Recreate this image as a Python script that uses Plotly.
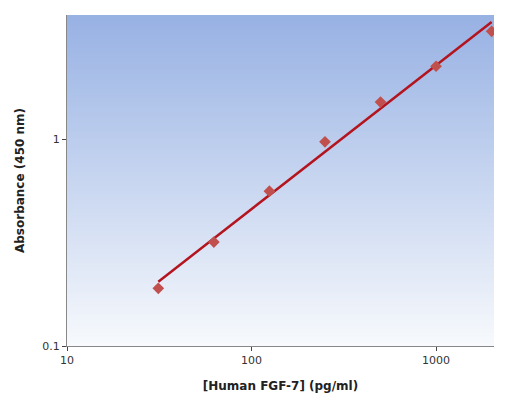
import numpy as np
import plotly.graph_objects as go

conc = [31.25, 62.5, 125, 250, 500, 1000, 2000]
absorb = [0.19, 0.318, 0.56, 0.97, 1.51, 2.25, 3.32]

lx, ly = np.log10(conc), np.log10(absorb)
b, a = np.polyfit(lx, ly, 1)
fit_x = [conc[0], conc[-1]]
fit_y = [10 ** (a + b * np.log10(v)) for v in fit_x]

fig = go.Figure()
n = 220
top, bot = np.array([152, 178, 228]), np.array([248, 250, 253])
shapes = []
for i in range(n):
    t = i / n
    c = top + (bot - top) * t
    shapes.append(dict(type="rect", xref="x domain", yref="y domain",
                       x0=0, x1=1, y0=1 - (i + 1.5) / n, y1=1 - i / n,
                       fillcolor=f"rgb({int(c[0])},{int(c[1])},{int(c[2])})",
                       line=dict(width=0), layer="below"))

fig.add_trace(go.Scatter(x=fit_x, y=fit_y, mode="lines",
                         line=dict(color="#b3141e", width=2.5), showlegend=False))
fig.add_trace(go.Scatter(x=conc, y=absorb, mode="markers",
                         marker=dict(symbol="diamond", size=9, color="#c0504d"),
                         showlegend=False))

fig.update_layout(
    width=512, height=413, paper_bgcolor="white", plot_bgcolor="white",
    margin=dict(l=59, r=26, t=7, b=75), shapes=shapes,
    font=dict(family="DejaVu Sans", size=11, color="#333"),
    xaxis=dict(type="log", range=[1, np.log10(2060)], showgrid=False,
               tickvals=[10, 100, 1000], ticktext=["10", "100", "1000"],
               ticks="outside", ticklen=4, linecolor="#888", showline=True,
               title=dict(text="<b>[Human FGF-7] (pg/ml)</b>", font=dict(size=12, color="#222"))),
    yaxis=dict(type="log", range=[-1, 0.6], showgrid=False,
               tickvals=[0.1, 1], ticktext=["0.1", "1"],
               ticks="outside", ticklen=4, linecolor="#888", showline=True,
               title=dict(text="<b>Absorbance (450 nm)</b>", font=dict(size=12, color="#222"))),
)
fig.write_html("out.html")
